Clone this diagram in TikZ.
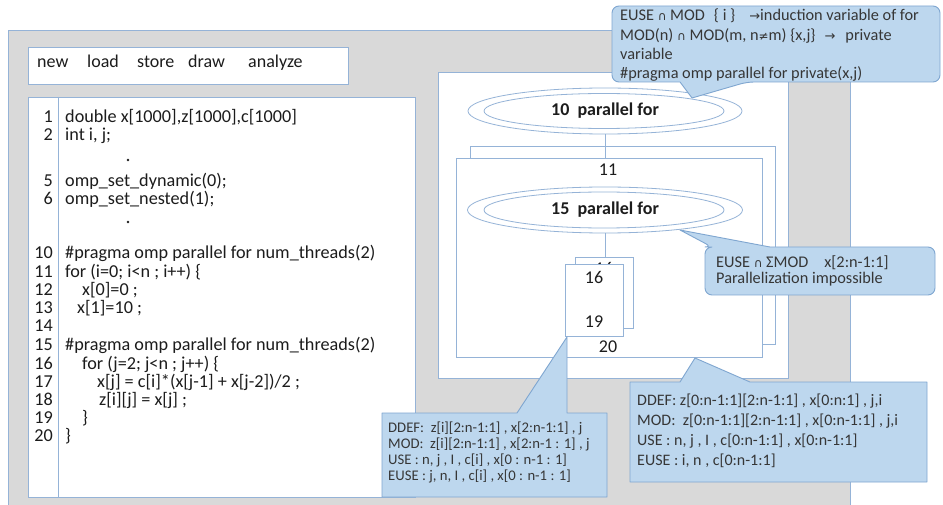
\documentclass[tikz,border=0pt]{standalone}
\usepackage{fontspec}
\setmainfont{Carlito}
\newfontfamily\symbolfont{DejaVu Sans}
\usetikzlibrary{shapes.geometric}

\definecolor{panelgray}{HTML}{D9D9D9}
\definecolor{edgeblue}{HTML}{95B3D7}
\definecolor{notefill}{HTML}{BDD7EE}
\definecolor{noteedge}{HTML}{7FA6D0}
\definecolor{ink}{HTML}{1C1C1C}
\definecolor{noteink}{HTML}{363636}

\newcommand{\capop}{{\symbolfont\fontsize{12}{12}\selectfont ∩}}
\newcommand{\rarr}{{\symbolfont\fontsize{13}{13}\selectfont →}}
\newcommand{\neqop}{{\symbolfont\fontsize{12}{12}\selectfont ≠}}

\begin{document}
\begin{tikzpicture}[x=1pt,y=-1pt,
  panelline/.style={draw=edgeblue,line width=0.9pt},
  whitebox/.style={draw=edgeblue,fill=white,line width=0.9pt,inner sep=0pt,anchor=north west},
  ring/.style={ellipse,draw=edgeblue,fill=white,line width=0.8pt,inner sep=0pt},
  link/.style={draw=edgeblue,line width=0.9pt},
  codetext/.style={inner sep=0pt,anchor=mid west,text=ink,font=\fontsize{18.2}{18.2}\selectfont},
  codenum/.style={inner sep=0pt,anchor=mid east,text=ink,font=\fontsize{18.2}{18.2}\selectfont},
  menuword/.style={inner sep=0pt,anchor=mid west,text=ink,font=\fontsize{18}{18}\selectfont},
  blocklabel/.style={inner sep=0pt,text=ink,font=\fontsize{18}{18}\selectfont},
  looplabel/.style={inner sep=0pt,text=ink,font=\fontsize{18}{18}\selectfont\bfseries},
  gapdot/.style={circle,fill=ink,inner sep=0pt,minimum size=2.6pt},
  callout/.style={fill=notefill,draw=noteedge,line width=0.9pt,line join=round},
  bignote/.style={inner sep=0pt,anchor=mid west,text=noteink,font=\fontsize{16.3}{16.3}\selectfont},
  smallnote/.style={inner sep=0pt,anchor=mid west,text=noteink,font=\fontsize{14.7}{14.7}\selectfont},
  midnote/.style={inner sep=0pt,anchor=mid west,text=noteink,font=\fontsize{16}{16}\selectfont}
]
\useasboundingbox (0,0) rectangle (943,505);

% window background
\fill[panelgray] (8,30) rectangle (850,508);
\draw[panelline] (8,508) -- (8,30) -- (850,30) -- (850,508);

% tool bar
\node[whitebox,minimum width=320pt,minimum height=37pt] (menu) at (28,47) {};
\node[menuword] (mnew) at (37,65) {new};
\node[menuword] (mload) at (87,65) {load};
\node[menuword] (mstore) at (137,65) {store};
\node[menuword] (mdraw) at (188,65) {draw};
\node[menuword] (manalyze) at (248,65) {analyze};

% source listing
\node[whitebox,minimum width=387pt,minimum height=400pt] (listing) at (28,97) {};
\draw[link] (listing.north west) ++(30,0) coordinate (gutter) -- (gutter |- listing.south);

\foreach \n/\yy/\xx/\t in {
  1/120/65/{double x[1000],z[1000],c[1000]},
  2/138/65/{int i, j;},
  5/184/65/{omp\_set\_dynamic(0);},
  6/202/65/{omp\_set\_nested(1);},
  10/256/65/{\#pragma omp parallel for num\_threads(2)},
  11/275/65/{for (i=0; i<n ; i++) \{},
  12/293/82/{x[0]=0 ;},
  13/311/77/{x[1]=10 ;},
  14/329/65/{},
  15/348/65/{\#pragma omp parallel for num\_threads(2)},
  16/367/82/{for (j=2; j<n ; j++) \{},
  17/385/97/{x[j] = c[i]*(x[j-1] + x[j-2])/2 ;},
  18/403/99/{z[i][j] = x[j] ;},
  19/421/82/{\}},
  20/439/65/{\}}}
{
  \node[codenum] (num\n) at (53,\yy) {\n};
  \node[codetext] (code\n) at (\xx,\yy) {\t};
}
\node[gapdot] (skipA) at (128,160) {};
\node[gapdot] (skipB) at (128,222) {};

% structure diagram
\node[whitebox,minimum width=350pt,minimum height=306pt] (canvas) at (438,72) {};

\node[ring,minimum width=274pt,minimum height=46pt] (e10) at (605,111) {};
\node[ring,minimum width=240pt,minimum height=35pt] (e10in) at (604,111) {};
\node[looplabel] (t10) at (605,111) {10\ \ parallel for};

\node[whitebox,minimum width=305pt,minimum height=198pt] (body11back) at (470,146) {};
\node[whitebox,minimum width=306pt,minimum height=199pt] (body11) at (456,158) {};
\draw[link] (e10.south) -- (e10.south |- body11.north);
\node[blocklabel] (t11) at (608,170) {11};
\node[blocklabel] (t20) at (608,347) {20};

\node[ring,minimum width=275pt,minimum height=46pt] (e15) at (605,210) {};
\node[ring,minimum width=240pt,minimum height=36pt] (e15in) at (604,210) {};
\node[looplabel] (t15) at (605,210) {15\ \ parallel for};

% stacked loop-body cards; the rear card's label only peeks out
\node[whitebox,minimum width=58pt,minimum height=71pt] (body16back) at (575,257) {};
\node[blocklabel] (t16back) at (604,268) {16};
\node[whitebox,minimum width=58pt,minimum height=72pt] (body16) at (565,264) {};
\draw[link] (e15.south) -- (e15.south |- body16back.north);
\node[blocklabel] (t16) at (594,277) {16};
\node[blocklabel] (t19) at (594,322) {19};

% annotation on the outer loop
\coordinate (tipTop) at (692,98);
\draw[callout] (760,6) [rounded corners=7pt] -- (940,6) -- (940,82) -- (747,82)
  [sharp corners] -- (tipTop) -- (680,82)
  [rounded corners=7pt] -- (612,82) -- (612,6) -- cycle;
\node[bignote] (nt1) at (620,18) {EUSE \capop\ MOD\hspace{9pt}\{ i \}\hspace{14pt}\rarr induction variable of for};
\node[bignote] (nt2) at (620,38) {MOD(n) \capop\ MOD(m, n\neqop m) \{x,j\}\hspace{9pt}\rarr\hspace{10pt}private};
\node[bignote] (nt3) at (620,57) {variable};
\node[bignote] (nt4) at (620,76) {\#pragma omp parallel for private(x,j)};

% annotation on the inner loop
\coordinate (tipMid) at (680,230);
\draw[callout] (800,247) [rounded corners=7pt] -- (935,247) -- (935,295) -- (705,295) -- (705,247) -- (712,247)
  [sharp corners] -- (tipMid) -- (770,247) -- cycle;
\node[bignote] (nm1) at (716,265) {EUSE \capop\ ΣMOD\hspace{16pt}x[2:n-1:1]};
\node[bignote] (nm2) at (716,281) {Parallelization impossible};

% annotation on the loop body 16-19
\coordinate (tipBody) at (567,337);
\draw[callout] (382,413) -- (517,413) -- (tipBody) -- (567,413) -- (607,413) -- (607,497) -- (382,497) -- cycle;
\node[smallnote] (nb1) at (388,430) {DDEF:\ \ z[i][2:n-1:1] , x[2:n-1:1] , j};
\node[smallnote] (nb2) at (388,446) {MOD:\ \ z[i][2:n-1:1] , x[2:n-1 : 1] , j};
\node[smallnote] (nb3) at (388,462) {USE : n, j , I , c[i] , x[0 : n-1 : 1]};
\node[smallnote] (nb4) at (388,478) {EUSE : j, n, I , c[i] , x[0 : n-1 : 1]};

% annotation on the block 11-20
\coordinate (tipBlock) at (695,358);
\draw[callout] (630,382) -- (680,382) -- (tipBlock) -- (750,382) -- (927,382) -- (927,482) -- (630,482) -- cycle;
\node[midnote] (nr1) at (637,403) {DDEF: z[0:n-1:1][2:n-1:1] , x[0:n:1] , j,i};
\node[midnote] (nr2) at (637,423) {MOD:\ \ z[0:n-1:1][2:n-1:1] , x[0:n-1:1] , j,i};
\node[midnote] (nr3) at (637,443) {USE : n, j , I , c[0:n-1:1] , x[0:n-1:1]};
\node[midnote] (nr4) at (637,463) {EUSE : i, n , c[0:n-1:1]};
\end{tikzpicture}
\end{document}
